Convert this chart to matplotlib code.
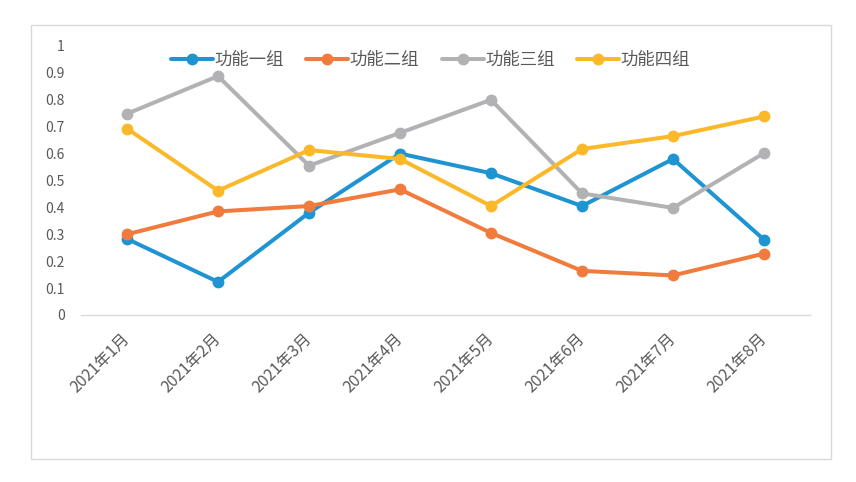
import matplotlib.pyplot as plt
from matplotlib.patches import Rectangle

plt.rcParams['font.family'] = ['Noto Sans CJK SC', 'DejaVu Sans']

# data
months = ['2021年1月', '2021年2月', '2021年3月', '2021年4月',
          '2021年5月', '2021年6月', '2021年7月', '2021年8月']
group1 = [0.283, 0.123, 0.38, 0.60, 0.527, 0.405, 0.58, 0.28]
group2 = [0.30, 0.385, 0.405, 0.467, 0.305, 0.164, 0.147, 0.228]
group3 = [0.748, 0.888, 0.555, 0.677, 0.80, 0.452, 0.398, 0.602]
group4 = [0.693, 0.462, 0.613, 0.58, 0.405, 0.617, 0.665, 0.738]
names = ['功能一组', '功能二组', '功能三组', '功能四组']
colors = ['#1F94D2', '#F07B3C', '#B2B2B4', '#FBB829']

fig = plt.figure(figsize=(8.56, 4.82), dpi=100)
ax = fig.add_axes([0.0952, 0.3465, 0.8505, 0.5581])

# outer chart border
fig.patches.append(Rectangle((31 / 856, 1 - 459 / 482), 800 / 856, 434 / 482,
                             transform=fig.transFigure, fill=False,
                             edgecolor='#D9D9D9', linewidth=1))

x = list(range(len(months)))
for vals, name, c in zip([group1, group2, group3, group4], names, colors):
    ax.plot(x, vals, color=c, linewidth=2.9, marker='o', markersize=7.5,
            label=name, solid_capstyle='round')

ax.set_xlim(-0.5, len(months) - 0.5)
ax.set_ylim(0, 1)
ax.set_yticks([i / 10 for i in range(11)])
ax.set_yticklabels(['0'] + ['0.%d' % i for i in range(1, 10)] + ['1'])
ax.set_xticks(x)
ax.set_xticklabels(months, rotation=45, ha='right', va='center',
                   rotation_mode='anchor')

for s in ['top', 'right', 'left']:
    ax.spines[s].set_visible(False)
ax.spines['bottom'].set_color('#D9D9D9')
ax.spines['bottom'].set_linewidth(1)

ax.tick_params(axis='y', length=0, pad=12, labelsize=10, labelcolor='#595959')
ax.tick_params(axis='x', length=0, pad=15, labelsize=11.5, labelcolor='#595959')

fig.legend(loc='center', bbox_to_anchor=(0.503, 0.8755), ncol=4,
           frameon=False, fontsize=12.5, labelcolor='#595959',
           handlelength=2.4, handletextpad=0.1, columnspacing=1.3)

fig.savefig('out.png', dpi=100)
